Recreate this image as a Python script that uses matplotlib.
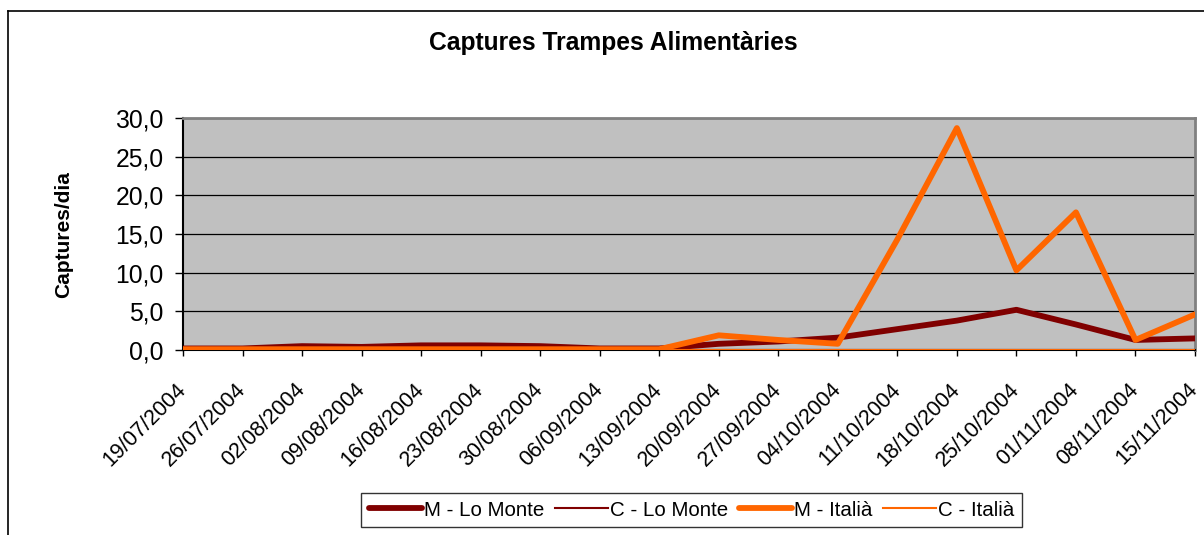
import numpy as np  # For positions along the category axis.
import matplotlib
matplotlib.use('Agg')
import matplotlib.pyplot as plt  # For creating plots.
from matplotlib.lines import Line2D
from matplotlib.ticker import FuncFormatter
from matplotlib.transforms import ScaledTranslation

# --------------------
# Data (captures per day, weekly samples)
dates = ['19/07/2004', '26/07/2004', '02/08/2004', '09/08/2004', '16/08/2004',
         '23/08/2004', '30/08/2004', '06/09/2004', '13/09/2004', '20/09/2004',
         '27/09/2004', '04/10/2004', '11/10/2004', '18/10/2004', '25/10/2004',
         '01/11/2004', '08/11/2004', '15/11/2004']

m_lo_monte = [0.2, 0.2, 0.5, 0.4, 0.6, 0.6, 0.5, 0.2, 0.2, 0.8,
              1.1, 1.6, 2.7, 3.8, 5.2, 3.3, 1.3, 1.5]
c_lo_monte = [0.0] * 18
m_italia = [0.1, 0.1, 0.1, 0.1, 0.1, 0.1, 0.1, 0.1, 0.1, 1.9,
            1.3, 0.8, 14.3, 28.7, 10.3, 17.8, 1.3, 4.6]
c_italia = [0.0] * 18

series_names = ['M - Lo Monte', 'C - Lo Monte', 'M - Italià', 'C - Italià']

DARK_RED = '#800000'
ORANGE = '#FF6600'
FONT = 'Liberation Sans'


# --------------------
def plot_captures():
    """
    Draw the line chart of food trap captures.
    """
    fig = plt.figure(figsize=(12.04, 5.35), dpi=100)
    ax = fig.add_axes([183 / 1204, 1 - 350 / 535, 1012 / 1204, 232 / 535])
    ax.set_facecolor('#C0C0C0')

    x = np.arange(len(dates))

    # Thick lines for M, thin lines for C.
    ax.plot(x, m_lo_monte, color=DARK_RED, lw=4.2, label=series_names[0],
            solid_capstyle='round', zorder=3)
    ax.plot(x, c_lo_monte, color=DARK_RED, lw=1.5, label=series_names[1], zorder=3)
    ax.plot(x, m_italia, color=ORANGE, lw=4.2, label=series_names[2],
            solid_capstyle='round', zorder=4)
    ax.plot(x, c_italia, color=ORANGE, lw=1.5, label=series_names[3], zorder=5)

    ax.set_xlim(0, len(dates) - 1)
    ax.set_ylim(0, 30)
    ax.set_yticks(np.arange(0, 31, 5))
    ax.yaxis.set_major_formatter(FuncFormatter(lambda v, p: f'{v:.1f}'.replace('.', ',')))
    ax.set_xticks(x)
    ax.set_xticklabels(dates, rotation=45, ha='right', va='center',
                       rotation_mode='anchor', fontsize=15.5, family=FONT)
    # nudge the date labels a little to the left
    shift = ScaledTranslation(-5 / 100, 0, fig.dpi_scale_trans)
    for lab in ax.get_xticklabels():
        lab.set_transform(lab.get_transform() + shift)
    for lab in ax.get_yticklabels():
        lab.set_family(FONT)
        lab.set_fontsize(17.8)

    ax.tick_params(axis='y', length=5.5, width=1, pad=8.5, color='black')
    ax.tick_params(axis='x', length=4.3, width=1, pad=22, color='black')

    # Horizontal grid lines.
    ax.grid(axis='y', color='black', lw=0.9)
    ax.set_axisbelow(True)

    for side in ['top', 'right']:
        ax.spines[side].set_color('#808080')
        ax.spines[side].set_linewidth(2)
    for side in ['left', 'bottom']:
        ax.spines[side].set_color('black')
        ax.spines[side].set_linewidth(1.5)

    # Title and axis label.
    fig.text(613 / 1204, 1 - 43 / 535, 'Captures Trampes Alimentàries',
             ha='center', va='center', fontsize=17.7, fontweight='bold', family=FONT)
    fig.text(64 / 1204, 1 - 235 / 535, 'Captures/dia', rotation=90,
             ha='center', va='center', fontsize=15, fontweight='bold', family=FONT)

    # Legend below the chart.
    leg = fig.legend(loc='center', bbox_to_anchor=(691.5 / 1204, 1 - 510 / 535),
                     ncol=4, frameon=True, fancybox=False, handlelength=2.6,
                     handletextpad=0.1, columnspacing=0.5, borderpad=0.35,
                     borderaxespad=0, prop={'family': FONT, 'size': 14.8})
    leg.get_frame().set_edgecolor('black')
    leg.get_frame().set_linewidth(1)

    # Outer chart frame (left and top edges visible).
    fig.add_artist(Line2D([8 / 1204, 8 / 1204], [0, 1 - 11 / 535],
                          color='black', lw=1.2, transform=fig.transFigure))
    fig.add_artist(Line2D([8 / 1204, 1], [1 - 11 / 535, 1 - 11 / 535],
                          color='black', lw=1.2, transform=fig.transFigure))

    fig.savefig('out.png', dpi=100)


# --------------------
if __name__ == "__main__":
    plot_captures()
